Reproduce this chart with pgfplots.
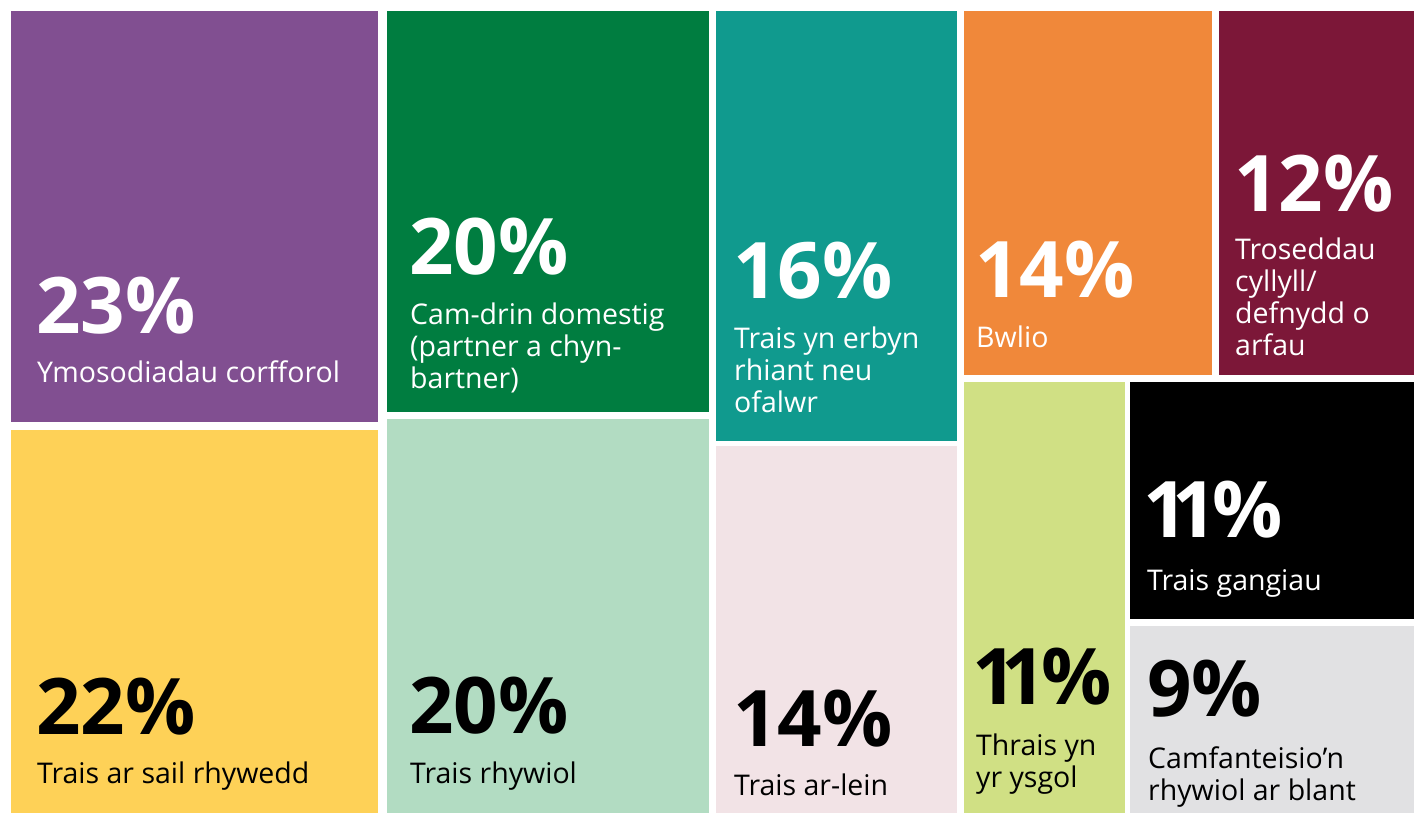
\documentclass[border=0pt]{standalone}
\usepackage{fontspec}
\setmainfont{Open Sans}
\usepackage{pgfplots}
\pgfplotsset{compat=1.18}
\definecolor{cpurple}{HTML}{814F91}
\definecolor{cdgreen}{HTML}{007D40}
\definecolor{cteal}{HTML}{109A8E}
\definecolor{corange}{HTML}{F0883A}
\definecolor{cmaroon}{HTML}{7C1738}
\definecolor{cyellow}{HTML}{FED157}
\definecolor{clgreen}{HTML}{B2DCC2}
\definecolor{cpink}{HTML}{F2E3E6}
\definecolor{cyg}{HTML}{D0E084}
\definecolor{cgrey}{HTML}{E1E1E3}
\newcommand{\rect}[5]{\addplot[fill=#1,draw=none] coordinates {(#2,#3) (#4,#3) (#4,#5) (#2,#5)} -- cycle;}
\newcommand{\bignum}[4]{\node[anchor=base west,inner sep=0pt,text=#1,font=\fontsize{78}{78}\selectfont\bfseries] at (axis cs:#2,#3) {#4};}
\newcommand{\lab}[4]{\node[anchor=base west,inner sep=0pt,text=#1,font=\fontsize{28.5}{28.5}\selectfont] at (axis cs:#2,#3) {#4};}
\begin{document}
\begin{tikzpicture}
\begin{axis}[width=1416pt,height=814pt,scale only axis,xmin=0,xmax=1416,ymin=0,ymax=814,y dir=reverse,hide axis,clip=false]
\addplot[draw=none,forget plot] coordinates {(0,0) (1416,814)};
\rect{cpurple}{11}{11}{378}{422}
\rect{cyellow}{11}{430}{378}{813}
\rect{cdgreen}{387}{11}{709}{412}
\rect{clgreen}{387}{419}{709}{813}
\rect{cteal}{716}{11}{957}{441}
\rect{cpink}{716}{446}{957}{813}
\rect{corange}{964}{11}{1212}{375}
\rect{cmaroon}{1219}{11}{1414}{375}
\rect{cyg}{964}{382}{1125}{813}
\rect{black}{1130}{382}{1414}{619}
\rect{cgrey}{1130}{626}{1414}{813}
% purple
\bignum{white}{36}{333}{23\%}
\lab{white}{37}{382}{Ymosodiadau corfforol}
% yellow
\bignum{black}{36}{734}{22\%}
\lab{black}{37}{783}{Trais ar sail rhywedd}
% dark green
\bignum{white}{409}{274}{20\%}
\lab{white}{410}{324}{Cam-drin domestig}
\lab{white}{410}{356}{(partner a chyn-}
\lab{white}{410}{388}{bartner)}
% light green
\bignum{black}{409}{733}{20\%}
\lab{black}{410}{783}{Trais rhywiol}
% teal
\bignum{white}{733}{298}{16\%}
\lab{white}{734}{348}{Trais yn erbyn}
\lab{white}{734}{380}{rhiant neu}
\lab{white}{734}{412}{ofalwr}
% pink
\bignum{black}{733}{746}{14\%}
\lab{black}{734}{795}{Trais ar-lein}
% orange
\bignum{white}{975}{297}{14\%}
\lab{white}{976}{347}{Bwlio}
% maroon
\bignum{white}{1234}{211}{12\%}
\lab{white}{1235}{259}{Troseddau}
\lab{white}{1235}{291}{cyllyll/}
\lab{white}{1235}{323}{defnydd o}
\lab{white}{1235}{355}{arfau}
% yellow-green
\bignum{black}{972}{704}{1\kern-0.2em1\kern-0.05em\%}
\lab{black}{976}{755}{Thrais yn}
\lab{black}{976}{787}{yr ysgol}
% black
\bignum{white}{1143}{537}{1\kern-0.2em1\kern-0.05em\%}
\lab{white}{1147}{590}{Trais gangiau}
% grey
\bignum{black}{1147}{716}{9\%}
\lab{black}{1148}{768}{Camfanteisio’n}
\lab{black}{1148}{800}{rhywiol ar blant}
\end{axis}
\end{tikzpicture}
\end{document}
